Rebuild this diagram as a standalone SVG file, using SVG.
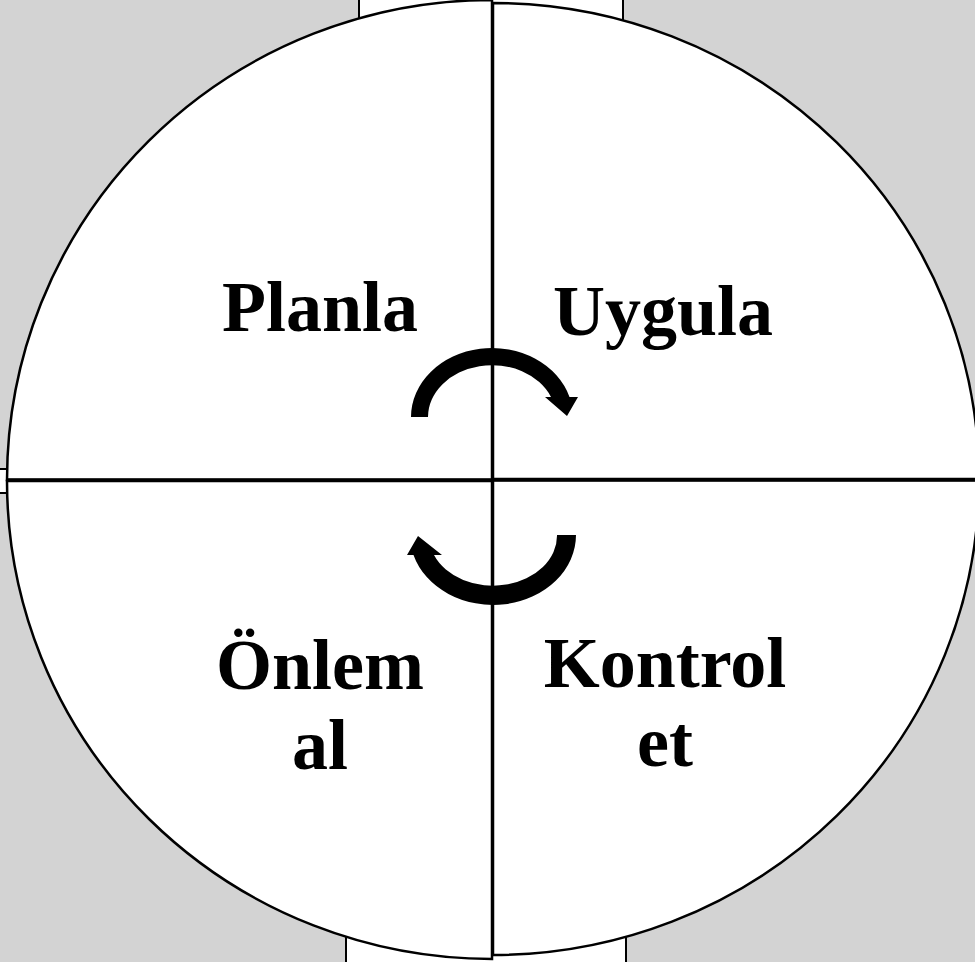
<svg xmlns="http://www.w3.org/2000/svg" width="975" height="962" viewBox="0 0 975 962">
<style>
.bg{fill:#d3d3d3}
.back{fill:#ffffff;stroke:#000;stroke-width:2}
.q{fill:#ffffff;stroke:#000;stroke-width:2.5;stroke-linejoin:miter}
.lbl{font-family:"Liberation Serif","Times New Roman",serif;font-weight:bold;font-size:72px;fill:#000;text-anchor:middle}
.arr{fill:#000}
</style>
<rect class="bg" x="0" y="0" width="975" height="962"/>
<g id="backdrop">
<rect class="back" x="359" y="-10" width="264" height="500"/>
<rect class="back" x="346" y="470" width="280" height="502"/>
<rect class="back" x="-10" y="469" width="500" height="24"/>
</g>
<g id="q-planla">
<path class="q" d="M492 480 L7 480 A485 480 0 0 1 492 0 Z"/>
<text class="lbl" x="320" y="331">Planla</text>
</g>
<g id="q-uygula">
<path class="q" d="M493 479 L493 3 A486 476 0 0 1 979 479 Z"/>
<text class="lbl" x="663" y="335">Uygula</text>
</g>
<g id="q-kontrol">
<path class="q" d="M493 480 L979 480 A486 475 0 0 1 493 955 Z"/>
<text class="lbl" x="665" y="687">Kontrol</text>
<text class="lbl" x="665" y="766">et</text>
</g>
<g id="q-onlem">
<path class="q" d="M492 481 L492 959 A485 478 0 0 1 7 481 Z"/>
<text class="lbl" x="320" y="689">Önlem</text>
<text class="lbl" x="320" y="769">al</text>
</g>
<g id="connectors">
<line x1="7" y1="480" x2="975" y2="480" stroke="#000" stroke-width="3.5"/>
<path class="arr" d="M411 417 A81 69 0 0 1 569.5 397 L578 397 L567 416 L545 397 L551 397 A64 52 0 0 0 428 417 Z"/>
<path class="arr" d="M576 535 A83 70 0 0 1 413.5 555 L407 555 L418 536 L442 555 L434 555 A64 50 0 0 0 557 535 Z"/>
</g>
</svg>
